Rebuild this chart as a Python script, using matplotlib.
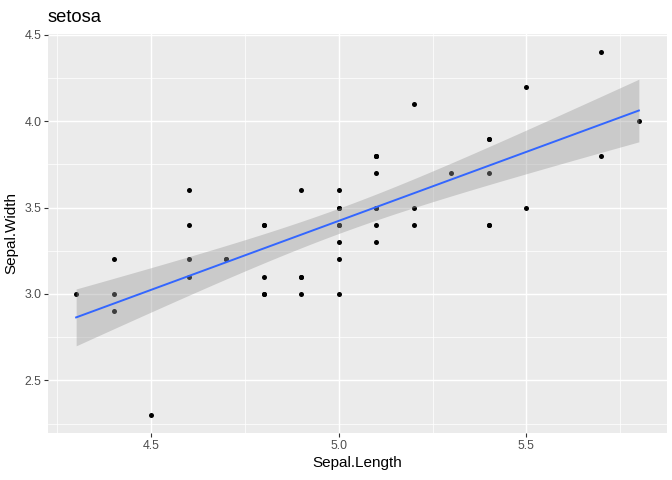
import numpy as np
import matplotlib
matplotlib.use("Agg")
import matplotlib.pyplot as plt
from matplotlib.ticker import FixedLocator

plt.rcParams['font.family'] = ['Liberation Sans', 'DejaVu Sans']

sepal_length = [5.1, 4.9, 4.7, 4.6, 5.0, 5.4, 4.6, 5.0, 4.4, 4.9,
                5.4, 4.8, 4.8, 4.3, 5.8, 5.7, 5.4, 5.1, 5.7, 5.1,
                5.4, 5.1, 4.6, 5.1, 4.8, 5.0, 5.0, 5.2, 5.2, 4.7,
                4.8, 5.4, 5.2, 5.5, 4.9, 5.0, 5.5, 4.9, 4.4, 5.1,
                5.0, 4.5, 4.4, 5.0, 5.1, 4.8, 5.1, 4.6, 5.3, 5.0]
sepal_width = [3.5, 3.0, 3.2, 3.1, 3.6, 3.9, 3.4, 3.4, 2.9, 3.1,
               3.7, 3.4, 3.0, 3.0, 4.0, 4.4, 3.9, 3.5, 3.8, 3.8,
               3.4, 3.7, 3.6, 3.3, 3.4, 3.0, 3.4, 3.5, 3.4, 3.2,
               3.1, 3.4, 4.1, 4.2, 3.1, 3.2, 3.5, 3.6, 3.0, 3.4,
               3.5, 2.3, 3.2, 3.5, 3.8, 3.0, 3.8, 3.2, 3.7, 3.3]
x_ticks = [4.5, 5.0, 5.5]
y_ticks = [2.5, 3.0, 3.5, 4.0, 4.5]

x = np.array(sepal_length)
y = np.array(sepal_width)
n = len(x)
b, a = np.polyfit(x, y, 1)
resid = y - (a + b * x)
s = np.sqrt(np.sum(resid ** 2) / (n - 2))
xm = x.mean()
sxx = np.sum((x - xm) ** 2)
xs = np.linspace(x.min(), x.max(), 80)
fit = a + b * xs
se = s * np.sqrt(1 / n + (xs - xm) ** 2 / sxx)
tq = 2.010635  # t(0.975, df=48)

fig = plt.figure(figsize=(6.72, 4.8), dpi=100)
ax = fig.add_axes([48 / 672, (480 - 433) / 480, (667 - 48) / 672, (433 - 34) / 480])
ax.set_facecolor("#EBEBEB")
for sp in ax.spines.values():
    sp.set_visible(False)

xr = x.max() - x.min()
yr = y.max() - y.min()
ax.set_xlim(x.min() - 0.05 * xr, x.max() + 0.05 * xr)
ax.set_ylim(y.min() - 0.05 * yr, y.max() + 0.05 * yr)

ax.xaxis.set_major_locator(FixedLocator(x_ticks))
ax.yaxis.set_major_locator(FixedLocator(y_ticks))
ax.xaxis.set_minor_locator(FixedLocator([4.25, 4.75, 5.25, 5.75]))
ax.yaxis.set_minor_locator(FixedLocator([2.25, 2.75, 3.25, 3.75, 4.25]))
ax.grid(which="major", color="white", lw=1.07)
ax.grid(which="minor", color="white", lw=0.53)
ax.set_axisbelow(True)
ax.tick_params(which="major", length=2.75, width=0.8, color="#333333",
               labelcolor="#4D4D4D", labelsize=8.8, pad=2)
ax.tick_params(which="minor", length=0)
ax.set_xticklabels(["4.5", "5.0", "5.5"])
ax.set_yticklabels(["2.5", "3.0", "3.5", "4.0", "4.5"])

ax.scatter(x, y, s=13, color="black", lw=0, zorder=2)
ax.fill_between(xs, fit - tq * se, fit + tq * se, color="#999999", alpha=0.4, lw=0, zorder=3)
ax.plot(xs, fit, color="#3366FF", lw=1.4, zorder=4)

ax.set_xlabel("Sepal.Length", fontsize=11, color="black", labelpad=3)
ax.set_ylabel("Sepal.Width", fontsize=11, color="black", labelpad=4)
fig.text(48 / 672, 1 - 17 / 480, "setosa", fontsize=13.2,
         ha="left", va="center")

fig.savefig("out.png", dpi=100)
